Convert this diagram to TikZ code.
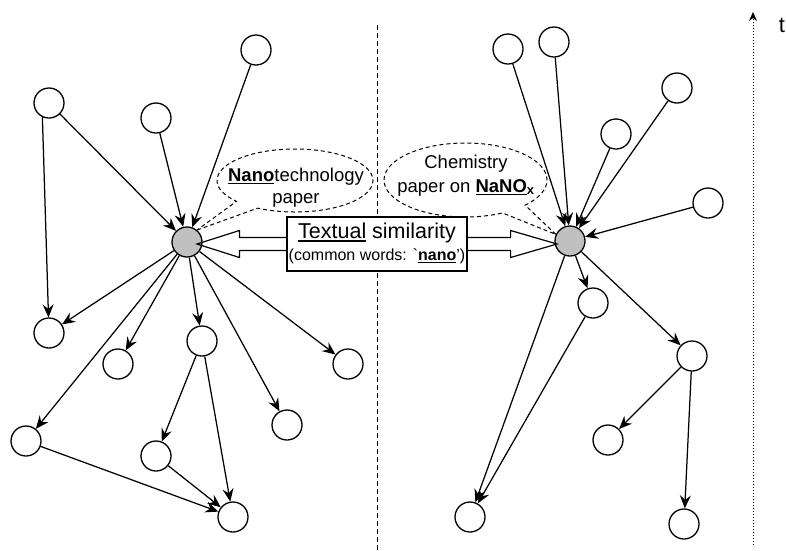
\documentclass[tikz,border=0pt]{standalone}
\usepackage{fontspec}
\setmainfont{Liberation Sans}
\usetikzlibrary{arrows.meta,shapes.callouts,calc}
\definecolor{hubgray}{RGB}{192,192,192}
% thick underline placed just below the baseline
\newcommand\undl[1]{\setbox0\hbox{#1}\rlap{\vrule height -0.1em depth 0.18em width \wd0}\box0\relax}
\begin{document}
\begin{tikzpicture}[x=1pt,y=-1pt,
  paper/.style={circle,draw,line width=1.3pt,minimum size=30pt,inner sep=0pt},
  hub/.style={paper,fill=hubgray},
  cite/.style={line width=1.25pt,-{Stealth[length=13pt,width=11pt,inset=4.5pt]}},
  note/.style={ellipse callout,draw,dash pattern=on 4pt off 3pt,line width=1pt,
    inner sep=0pt,callout pointer arc=20},
  notetext/.style={anchor=base,inner sep=0pt,font=\fontsize{18.5}{23}\selectfont},
  shaft/.style={line width=1.2pt,line join=miter},
]
\useasboundingbox (0,0) rectangle (786,550);

% time axis and divider
\coordinate (tbot) at (753,545);
\coordinate (ttop) at (753,12);
\draw[line width=1pt,dotted,-{Stealth[length=9pt,width=8pt,inset=3pt]}] (tbot) -- (ttop);
\node[anchor=base,inner sep=0pt,font=\fontsize{22}{24}\selectfont] (tlabel) at (782,32) {t};
\coordinate (divtop) at (377,25);
\coordinate (divbot) at (377,550);
\draw[line width=1pt,dash pattern=on 5pt off 3pt] (divtop) -- (divbot);

% left citation graph
\node[hub] (hubL) at (187,242) {};
\node[paper] (a) at (49,103) {};
\node[paper] (b) at (156,118) {};
\node[paper] (c) at (256,50) {};
\node[paper] (d) at (49,333) {};
\node[paper] (e) at (118,364) {};
\node[paper] (f) at (202,341) {};
\node[paper] (g) at (348,364) {};
\node[paper] (h) at (287,425) {};
\node[paper] (i) at (26,441) {};
\node[paper] (j) at (156,456) {};
\node[paper] (k) at (233,517) {};

\draw[cite] (a.245) -- (d);
\draw[cite] (a) -- (hubL);
\draw[cite] (b) -- (hubL);
\draw[cite] (c) -- (hubL);
\draw[cite] (hubL) -- (d);
\draw[cite] (hubL) -- (e);
\draw[cite] (hubL) -- (f);
\draw[cite] (hubL) -- (g);
\draw[cite] (hubL) -- (h);
\draw[cite] (hubL) -- (i);
\draw[cite] (f) -- (j);
\draw[cite] (f) -- (k);
\draw[cite] (j) -- (k);
\draw[cite] (i) -- (k);

% right citation graph
\node[hub] (hubR) at (570,241) {};
\node[paper] (r1) at (508,49) {};
\node[paper] (r2) at (554,42) {};
\node[paper] (r3) at (616,134) {};
\node[paper] (r4) at (677,88) {};
\node[paper] (r5) at (708,203) {};
\node[paper] (r6) at (593,303) {};
\node[paper] (r7) at (692,356) {};
\node[paper] (r8) at (608,440) {};
\node[paper] (r9) at (470,517) {};
\node[paper] (r10) at (684,524) {};

\draw[cite] (r1) -- (hubR);
\draw[cite] (r2) -- (hubR);
\draw[cite] (r3) -- (hubR);
\draw[cite] (r4) -- (hubR);
\draw[cite] (r5) -- (hubR);
\draw[cite] (hubR) -- (r6);
\draw[cite] (hubR) -- (r7);
\draw[cite] (hubR) -- (r9);
\draw[cite] (r6) -- (r9);
\draw[cite] (r7) -- (r8);
\draw[cite] (r7) -- (r10);

% callouts naming the two papers
\node[note,minimum width=156pt,minimum height=63pt,
  callout absolute pointer={(hubL.50)}] (nanonote) at (295,180.5) {};
\node[notetext] (nanol1) at (296,181) {\undl{\textbf{Nano}}technology};
\node[notetext] (nanol2) at (296,203) {paper};
\node[note,minimum width=163pt,minimum height=74pt,
  callout absolute pointer={(hubR.155)}] (chemnote) at (465.5,180) {};
\node[notetext] (cheml1) at (466,168) {Chemistry};
\node[notetext] (cheml2) at (466,192) {paper on \undl{\textbf{NaNO}}\textsubscript{\textbf{x}}};

% textual similarity block arrow
\node[draw,fill=white,line width=1.2pt,minimum width=180pt,minimum height=54pt,inner sep=0pt]
  (simbox) at (377,244) {};
\draw[shaft] ($(simbox.west)+(0,-6.5)$) -- ++(-47,0) -- ++(0,-7) -- ($(hubL)+(10,2)$)
  -- ($(simbox.west)+(-47,13.5)$) -- ++(0,-7) -- ($(simbox.west)+(0,6.5)$);
\draw[shaft] ($(simbox.east)+(0,-6.5)$) -- ++(43,0) -- ++(0,-7) -- ($(hubR)+(-13,3)$)
  -- ($(simbox.east)+(43,13.5)$) -- ++(0,-7) -- ($(simbox.east)+(0,6.5)$);
\node[anchor=base,inner sep=0pt,font=\fontsize{21.5}{24}\selectfont] (simtitle) at (377,238)
  {\undl{Textual} similarity};
\node[anchor=base,inner sep=0pt,font=\fontsize{16}{19}\selectfont] (simwords) at (377,260)
  {(common words: \textasciigrave\undl{\textbf{nano}}')};
\end{tikzpicture}
\end{document}
